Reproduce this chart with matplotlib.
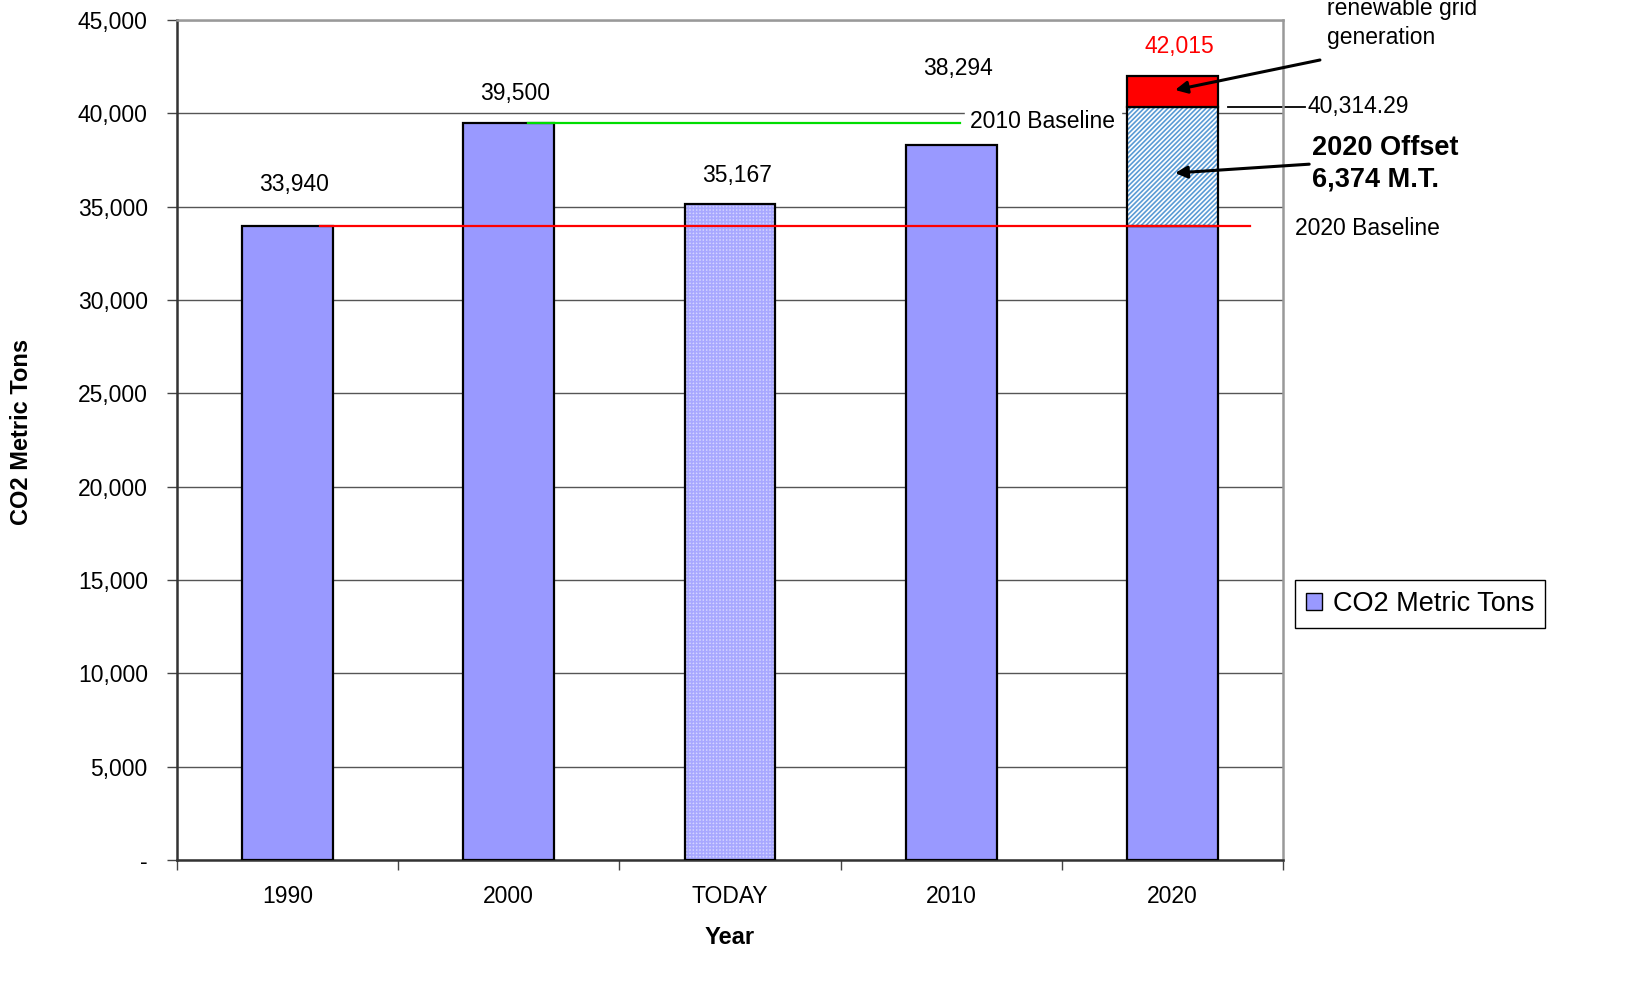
import matplotlib
matplotlib.use("Agg")
import matplotlib.pyplot as plt
from matplotlib.patches import Patch

plt.rcParams["font.family"] = ["Liberation Sans", "DejaVu Sans"]
plt.rcParams["hatch.linewidth"] = 1.2

# data
categories = ["1990", "2000", "TODAY", "2010", "2020"]
co2_tons = [33940, 39500, 35167, 38294, 33940]
value_labels = ["33,940", "39,500", "35,167", "38,294", "42,015"]
offset_top = 40314.29
offset_2020 = 6374
total_2020 = 42015
baseline_2010 = 39500
baseline_2020 = 33940
label_y = [36214, 41036, 36696, 42375, 43607]

BAR = "#9999ff"
W = 0.41

fig = plt.figure(figsize=(16.41, 9.93), dpi=100)
ax = fig.add_axes([177 / 1641, 1 - 860 / 993, (1283 - 177) / 1641, (860 - 20) / 993])
x = list(range(len(categories)))

# solid bars (1990, 2000, 2010, 2020 base)
for i in [0, 1, 3, 4]:
    ax.bar(i, co2_tons[i], W, color=BAR, edgecolor="black", lw=1.6, zorder=3)

# TODAY: fine dotted pattern
ax.bar(2, co2_tons[2], W, color="#d4d4ff", edgecolor="#a8a8ff", hatch="+++++", lw=0, zorder=3)
ax.bar(2, co2_tons[2], W, fill=False, edgecolor="black", lw=1.6, zorder=4)

# 2020 offset segment (hatched) and renewable segment (red)
ax.bar(4, offset_top - co2_tons[4], W, bottom=co2_tons[4], color="white",
       edgecolor="#5b9bd5", hatch="///////", lw=0, zorder=3)
ax.bar(4, offset_top - co2_tons[4], W, bottom=co2_tons[4], fill=False,
       edgecolor="black", lw=1.6, zorder=4)
ax.bar(4, total_2020 - offset_top, W, bottom=offset_top, color="#ff0000",
       edgecolor="black", lw=1.6, zorder=4)

# value labels
for i, (lab, yy) in enumerate(zip(value_labels, label_y)):
    ax.text(i + 0.03, yy, lab, ha="center", va="center", fontsize=16.5,
            color="red" if i == 4 else "black", zorder=5)

# baselines
ax.plot([0.145, 4.35], [baseline_2020, baseline_2020], color="red", lw=1.6, zorder=5,
        clip_on=False)
ax.plot([1.086, 3.04], [baseline_2010, baseline_2010], color="#00dd00", lw=1.6, zorder=5)
ax.text(3.085, 39536, "2010 Baseline", ha="left", va="center", fontsize=16.5,
        backgroundcolor="white", zorder=6)
ax.text(4.554, 33857, "2020 Baseline", ha="left", va="center", fontsize=16.5, clip_on=False)

# 40,314.29 marker
ax.plot([4.251, 4.599], [offset_top, offset_top], color="black", lw=1.3, clip_on=False)
ax.text(4.613, 40340, "40,314.29", ha="left", va="center", fontsize=16.5, clip_on=False)

# annotations
arrow = dict(arrowstyle="-|>", color="black", lw=2.2, mutation_scale=18, shrinkA=0, shrinkB=0)
ax.annotate("2020 Offset\n6,374 M.T.", xy=(4.012, 36804), xytext=(4.631, 37286),
            ha="left", va="center", fontsize=19.5, fontweight="bold", linespacing=1.25,
            annotation_clip=False, zorder=10,
            arrowprops=dict(arrow, relpos=(0, 0.5)))
ax.annotate("", xy=(4.012, 41250), xytext=(4.667, 42857), annotation_clip=False,
            zorder=10, arrowprops=arrow)
ax.text(4.699, 44839, "renewable grid\ngeneration", ha="left", va="center",
        fontsize=16.5, linespacing=1.35, clip_on=False)

# axes
ax.set_xlim(-0.5, 4.5)
ax.set_ylim(0, 45000)
ax.set_yticks(range(0, 45001, 5000))
ax.set_yticklabels(["-"] + [f"{v:,}" for v in range(5000, 45001, 5000)], fontsize=16.5)
ax.yaxis.grid(True, color="#555555", lw=1.0, zorder=0)
ax.set_axisbelow(True)
ax.set_xticks([i - 0.5 for i in range(6)])
ax.set_xticklabels([])
ax.set_xticks(x, minor=True)
ax.set_xticklabels(categories, minor=True, fontsize=16.5)
ax.tick_params(axis="x", which="minor", length=0, pad=18)
ax.tick_params(axis="x", which="major", length=7, width=1, direction="out", color="#444444")
ax.tick_params(axis="y", length=7, width=1, direction="out", color="#444444", pad=14)
for s in ["left", "bottom"]:
    ax.spines[s].set_color("#333333")
    ax.spines[s].set_linewidth(1.8)
for s in ["top", "right"]:
    ax.spines[s].set_color("#999999")
    ax.spines[s].set_linewidth(1.8)

fig.text(22 / 1641, 1 - 432 / 993, "CO2 Metric Tons", rotation=90, ha="center",
         va="center", fontsize=17, fontweight="bold")
fig.text(730 / 1641, 1 - 937 / 993, "Year", ha="center", va="center",
         fontsize=17, fontweight="bold")

handle = Patch(facecolor=BAR, edgecolor="black", lw=1.0)
fig.legend([handle], ["CO2 Metric Tons"], loc="upper left",
           bbox_to_anchor=(1295 / 1641, 1 - 580 / 993), fontsize=19.5,
           fancybox=False, edgecolor="black", framealpha=1, handlelength=0.6,
           handleheight=0.6, handletextpad=0.4, borderpad=0.4, borderaxespad=0)

fig.savefig("out.png", dpi=100)
